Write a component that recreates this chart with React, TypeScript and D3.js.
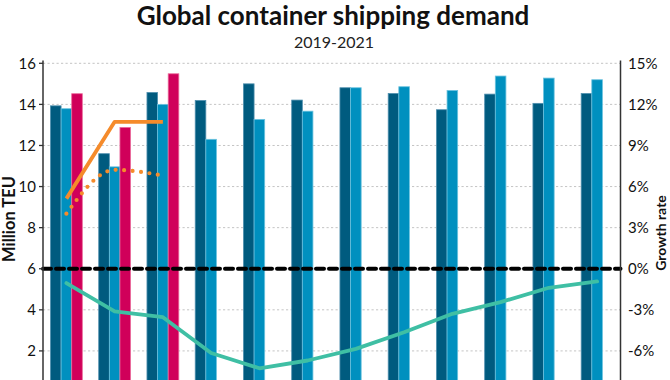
import React from "react";
import * as d3 from "d3";

const months = ["Jan", "Feb", "Mar", "Apr", "May", "Jun", "Jul", "Aug", "Sep", "Oct", "Nov", "Dec"];
const series2019 = [13.93, 11.6, 14.58, 14.19, 15.0, 14.21, 14.81, 14.53, 13.74, 14.5, 14.05, 14.53];
const series2020 = [13.79, 10.96, 14.0, 12.3, 13.27, 13.67, 14.81, 14.86, 14.68, 15.38, 15.28, 15.2];
const series2021 = [14.52, 12.88, 15.49];
const growthSolid = [5.12, 10.73, 10.73];
const growthDotted = [4.02, 7.22, 6.8];
const growthTeal = [-1.05, -3.12, -3.54, -6.15, -7.27, -6.7, -5.85, -4.64, -3.29, -2.44, -1.39, -0.93];
const leftTicks = [2, 4, 6, 8, 10, 12, 14, 16];
const rightTicks = [-6, -3, 0, 3, 6, 9, 12, 15];

const W = 670;
const H = 380;
const FONT = "Lato, 'Open Sans', sans-serif";

export default function App() {
  const left = 43;
  const right = 620.5;
  const top = 63.3;
  const bottom = 392;

  const x0 = d3.scaleBand<string>().domain(months).range([left, right]).paddingInner(0.34).paddingOuter(0.155);
  const x1 = d3.scaleBand<string>().domain(["a", "b", "c"]).range([0, x0.bandwidth()]).padding(0);
  const yL = d3.scaleLinear().domain([0, 16]).range([bottom, top]);
  const yR = d3.scaleLinear().domain([-9, 15]).range([bottom, top]);
  const cx = (i: number) => (x0(months[i]) as number) + x0.bandwidth() / 2;

  const lineLin = d3.line<number>().x((_, i) => cx(i)).y((d) => yR(d));
  const lineMono = d3.line<number>().x((_, i) => cx(i)).y((d) => yR(d)).curve(d3.curveMonotoneX);

  const bars: { key: string; vals: number[]; fill: string; stroke: string }[] = [
    { key: "a", vals: series2019, fill: "#005b7f", stroke: "#4f8fae" },
    { key: "b", vals: series2020, fill: "#0090bf", stroke: "#6cc3df" },
    { key: "c", vals: series2021, fill: "#d0005a", stroke: "#ea6b9b" },
  ];

  return (
    <svg width={W} height={H} style={{ position: "absolute", left: 0, top: 0, background: "#fff" }} fontFamily={FONT}>
      <text x={333} y={25} textAnchor="middle" fontSize={26} fontWeight={700} fill="#111">
        Global container shipping demand
      </text>
      <text x={334} y={48} textAnchor="middle" fontSize={16} fill="#222">
        2019-2021
      </text>

      {leftTicks.map((t) => (
        <line key={"g" + t} x1={left} x2={right} y1={yL(t)} y2={yL(t)} stroke="#c4c4c4" strokeWidth={1} strokeDasharray="2.2,2.3" />
      ))}

      {bars.map((s) =>
        s.vals.map((v, i) => (
          <rect
            key={s.key + i}
            x={(x0(months[i]) as number) + (x1(s.key) as number)}
            y={yL(v)}
            width={x1.bandwidth()}
            height={yL(0) - yL(v)}
            fill={s.fill}
            stroke={s.stroke}
            strokeWidth={0.8}
          />
        ))
      )}

      <line x1={left} x2={right} y1={yR(0)} y2={yR(0)} stroke="#000" strokeWidth={4} strokeDasharray="8,5" strokeLinecap="round" />

      <path d={lineLin(growthTeal) || ""} fill="none" stroke="#3fbfa4" strokeWidth={3.8} strokeLinejoin="round" strokeLinecap="round" />
      <path d={lineLin(growthSolid) || ""} fill="none" stroke="#f58b2b" strokeWidth={3.8} strokeLinejoin="round" />
      <path d={lineMono(growthDotted) || ""} fill="none" stroke="#f58b2b" strokeWidth={4.2} strokeDasharray="0,8.5" strokeLinecap="round" />

      <line x1={left} x2={left} y1={60.5} y2={H} stroke="#333" strokeWidth={1.5} />
      {leftTicks.map((t) => (
        <g key={"l" + t}>
          <line x1={left - 4} x2={left} y1={yL(t)} y2={yL(t)} stroke="#333" strokeWidth={1.3} />
          <text x={36} y={yL(t)} dy="0.35em" textAnchor="end" fontSize={15} fill="#111">
            {t}
          </text>
        </g>
      ))}
      <line x1={right} x2={right} y1={60.5} y2={H} stroke="#333" strokeWidth={1.5} />
      {rightTicks.map((t) => (
        <text key={"r" + t} x={628} y={yR(t)} dy="0.35em" textAnchor="start" fontSize={15} fill="#111">
          {t + "%"}
        </text>
      ))}

      <text transform={`translate(15,219) rotate(-90)`} textAnchor="middle" fontSize={16.5} fontWeight={700} fill="#111">
        Million TEU
      </text>
      <text transform={`translate(666,233) rotate(-90)`} textAnchor="middle" fontSize={14} fontWeight={700} fill="#111">
        Growth rate
      </text>
    </svg>
  );
}
